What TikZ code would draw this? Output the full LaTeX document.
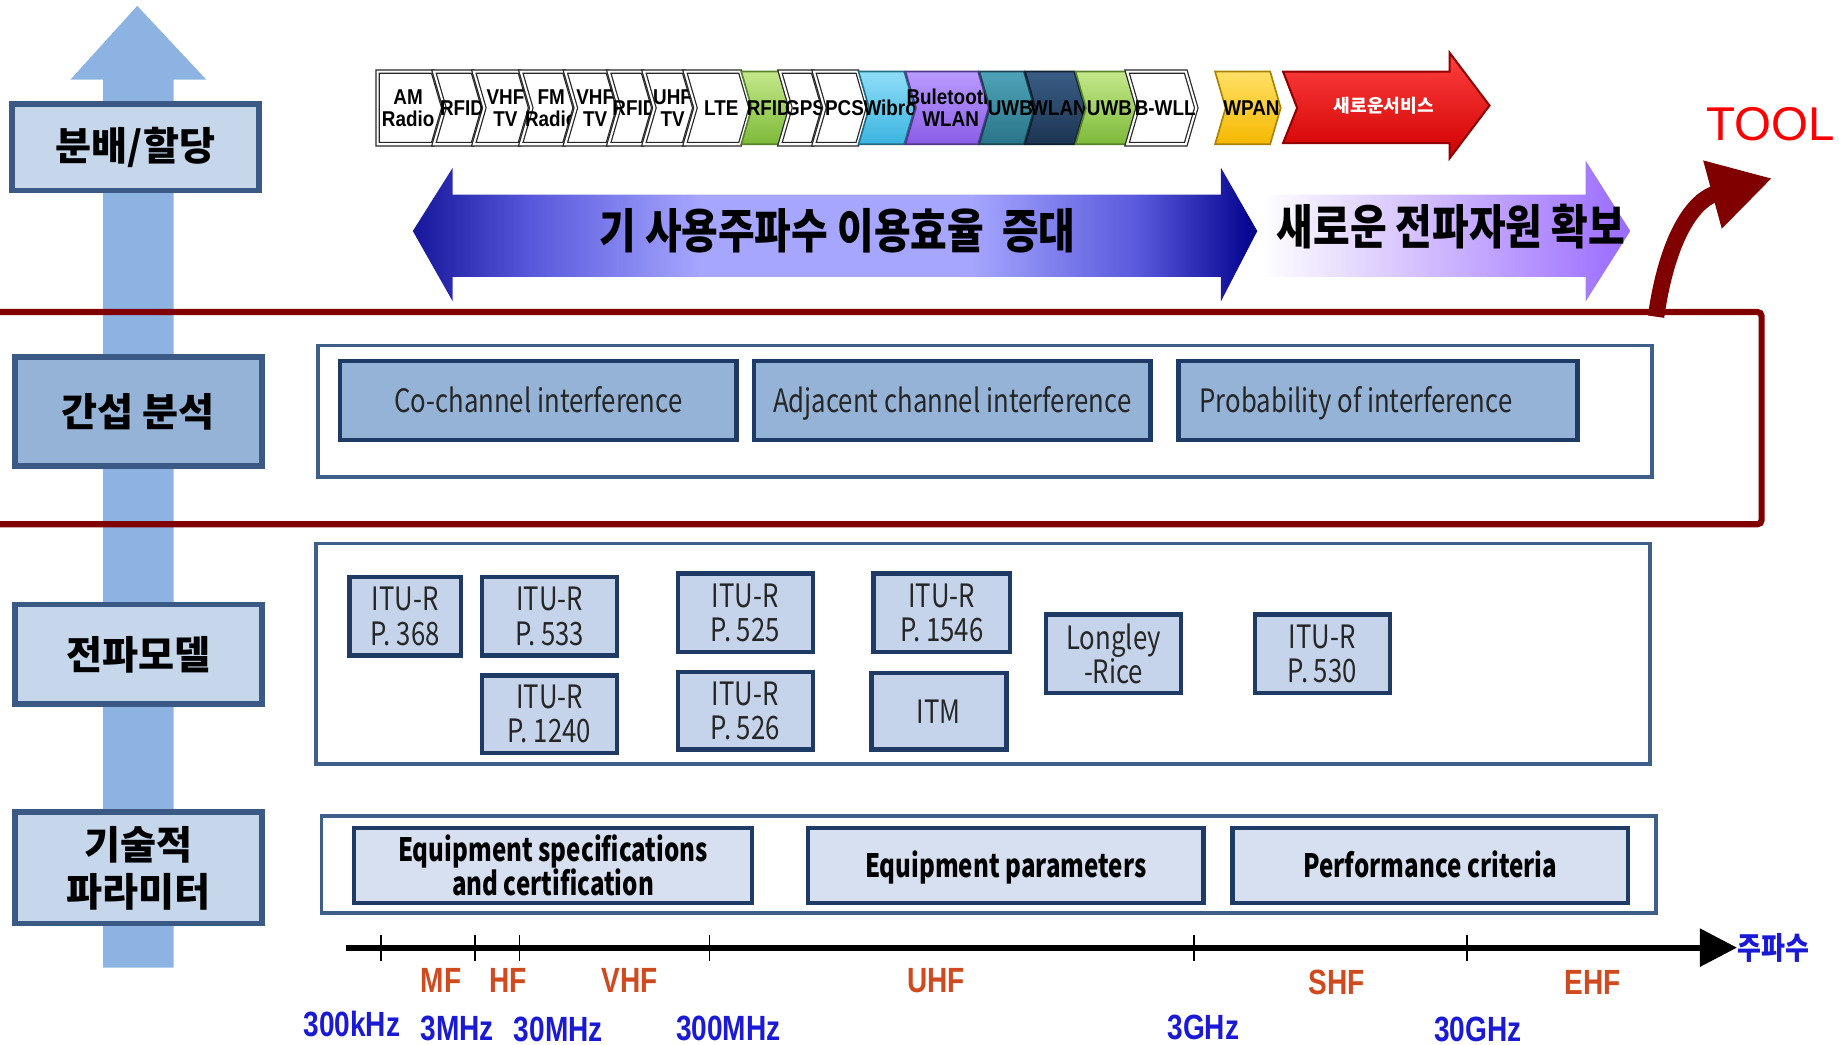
\documentclass[tikz,border=0pt]{standalone}
\usepackage{fontspec}
\setmainfont{Noto Sans CJK KR}
\newfontfamily\krcond{Noto Sans CJK KR}[FakeStretch=0.84]
\newfontfamily\latcond{Noto Sans CJK KR}[FakeStretch=0.8]
\newfontfamily\latboldcond{Noto Sans CJK KR}[FakeStretch=0.75]
\newfontfamily\arialfont{Liberation Sans}
\newfontfamily\chevfont{Liberation Sans}[FakeStretch=0.88]
\newfontfamily\arialnarrow{Liberation Sans}[FakeStretch=0.8]
\usetikzlibrary{arrows.meta}

\definecolor{shaftblue}{HTML}{8DB3E2}
\definecolor{lblframe}{HTML}{3A5A85}
\definecolor{lightfill}{HTML}{C6D6EB}
\definecolor{midfill}{HTML}{95B3D7}
\definecolor{groupframe}{HTML}{3E5F8A}
\definecolor{boxnavy}{HTML}{1F3A64}
\definecolor{propfill}{HTML}{C5D4EA}
\definecolor{techfill}{HTML}{D6E0F0}
\definecolor{toolred}{HTML}{800000}
\definecolor{bandred}{HTML}{CF4A1E}
\definecolor{freqblue}{HTML}{1A1AD6}
\definecolor{arrdark}{HTML}{16169A}
\definecolor{arrmid}{HTML}{5858DC}
\definecolor{arrlight}{HTML}{A6A6FF}
\definecolor{arrdarkR}{HTML}{00008B}
\definecolor{violetend}{HTML}{9A6BFF}
\definecolor{violetpale}{HTML}{F2ECFF}
\definecolor{greentop}{HTML}{C4E88A}
\definecolor{greenbot}{HTML}{7DBA3A}
\definecolor{cyantop}{HTML}{8FDDF7}
\definecolor{cyanbot}{HTML}{3BB4E0}
\definecolor{purptop}{HTML}{B99CFF}
\definecolor{purpbot}{HTML}{8A5CE6}
\definecolor{tealtop}{HTML}{4FA3B8}
\definecolor{tealbot}{HTML}{2A7489}
\definecolor{navytop}{HTML}{3A5C85}
\definecolor{navybot}{HTML}{1C3553}
\definecolor{goldtop}{HTML}{FFE066}
\definecolor{goldbot}{HTML}{F5B800}
\definecolor{redtop}{HTML}{FF4040}
\definecolor{redbot}{HTML}{D00000}

% dark ends, light middle (0bp = right end after rotation)
\pgfdeclareverticalshading{reuseshade}{100bp}{color(0bp)=(arrdarkR); color(25bp)=(arrdarkR);
  color(32bp)=(arrmid); color(42bp)=(arrlight); color(58bp)=(arrlight); color(68bp)=(arrmid);
  color(75bp)=(arrdark); color(100bp)=(arrdark)}

% chevron: left x, tip x, style, name, text
\newcommand\chevbox[5]{%
  \draw[#3] (#1,61) -- (#2-9,61) -- (#2,92) -- (#2-9,123) -- (#1,123) -- (#1+9,92) -- cycle;
  \node[chevtxt] (#4) at ({(#1+#2)/2+3},92) {#5};}

\begin{document}
\begin{tikzpicture}[x=0.01cm,y=-0.01cm,
    lbl/.style={draw=lblframe,line width=1.4pt,minimum width=2.1cm,align=center,
      font=\bfseries\fontsize{9.5}{11.4}\selectfont},
    groupbox/.style={draw=groupframe,line width=0.9pt,fill=white,minimum width=11.37cm},
    ibox/.style={draw=boxnavy,line width=1.1pt,align=center,inner sep=0pt,text=black!85,
      font=\latcond\fontsize{7.8}{8.3}\selectfont},
    oneline/.style={text height=1.55ex,text depth=0.45ex},
    tbox/.style={ibox,fill=techfill,text=black,minimum height=0.64cm,
      font=\latboldcond\bfseries\fontsize{7.8}{8.3}\selectfont},
    chevtxt/.style={align=center,inner sep=0pt,font=\chevfont\bfseries\fontsize{5.2}{5.4}\selectfont},
    wchev/.style={fill=white,draw=black!85,line width=0.3pt,double=white,double distance=0.5pt},
    bigtxt/.style={font=\krcond\bfseries\fontsize{11.5}{13}\selectfont},
    band/.style={text=bandred,font=\arialnarrow\bfseries\fontsize{8.5}{9}\selectfont},
    freq/.style={text=freqblue,font=\arialnarrow\bfseries\fontsize{8.5}{9}\selectfont}]
  \useasboundingbox (0,0) rectangle (1568,891);

  % vertical arrow behind the labels
  \fill[shaftblue] (88,825) -- (88,68) -- (60,68) -- (117,5) -- (176,68) -- (148,68) -- (148,825) -- cycle;

  % highlighted band
  \draw[toolred,line width=1.5pt,rounded corners=1pt] (-10,266) rectangle (1502,447);

  % left labels
  \node[lbl,fill=lightfill,minimum height=0.74cm] (alloc) at (115.5,125.5) {분배/할당};
  \node[lbl,fill=midfill,minimum height=0.93cm] (interf) at (118,351) {간섭 분석};
  \node[lbl,fill=lightfill,minimum height=0.85cm] (prop) at (118,558) {전파모델};
  \node[lbl,fill=lightfill,minimum height=0.85cm] (tech) at (118,740) {기술적\\파라미터};

  % service chevrons
  \draw[wchev] (322,61) -- (369,61) -- (378,92) -- (369,123) -- (322,123) -- cycle;
  \node[chevtxt] (amradio) at (348,92) {AM\\Radio};
  \chevbox{370}{412}{wchev}{rfida}{RFID}
  \chevbox{404}{452}{wchev}{vhfa}{VHF\\TV}
  \chevbox{444}{490}{wchev}{fmradio}{FM\\Radio}
  \chevbox{482}{527}{wchev}{vhfb}{VHF\\TV}
  \chevbox{519}{557}{wchev}{rfidb}{RFID}
  \chevbox{549}{592}{wchev}{uhf}{UHF\\TV}
  \chevbox{584}{640}{wchev}{lte}{LTE}
  \chevbox{632}{673}{top color=greentop,bottom color=greenbot,draw=greenbot!70!black}{rfidc}{RFID}
  \chevbox{665}{702}{wchev}{gps}{GPS}
  \chevbox{694}{740}{wchev}{pcs}{PCS}
  \chevbox{732}{780}{top color=cyantop,bottom color=cyanbot,draw=cyanbot!60!black}{wibro}{Wibro}
  \chevbox{772}{843}{top color=purptop,bottom color=purpbot,draw=purpbot!60!black}{bluetooth}{Buletooth\\WLAN}
  \chevbox{835}{882}{top color=tealtop,bottom color=tealbot,draw=tealbot!60!black}{uwba}{UWB}
  \chevbox{874}{925}{top color=navytop,bottom color=navybot,draw=navybot!60!black}{wlan}{WLAN}
  \chevbox{917}{969}{top color=greentop,bottom color=greenbot,draw=greenbot!70!black}{uwbb}{UWB}
  \chevbox{961}{1020}{wchev}{bwll}{B-WLL}
  \chevbox{1036}{1092}{top color=goldtop,bottom color=goldbot,draw=goldbot!70!black}{wpan}{WPAN}
  \draw[top color=redtop,bottom color=redbot,draw=redbot!70!black,line width=0.5pt]
    (1094,61) -- (1236,61) -- (1236,45) -- (1270,90) -- (1236,135) -- (1236,122) -- (1094,122) -- (1106,92) -- cycle;
  \node[chevtxt,text=white,font=\bfseries\fontsize{4.4}{5}\selectfont] (newsvc) at (1180,90) {새로운서비스};

  % big arrows
  \shade[shading=reuseshade,shading angle=90]
    (352,197) -- (386,143) -- (386,166) -- (1041,166) -- (1041,143) -- (1072,197)
    -- (1041,257) -- (1041,236) -- (386,236) -- (386,257) -- cycle;
  \node[bigtxt] (reuse) at (714,197) {기 사용주파수 이용효율~ 증대};
  \shade[left color=white,middle color=violetpale,right color=violetend]
    (1075,166) -- (1352,166) -- (1352,137) -- (1390,197) -- (1352,257) -- (1352,236) -- (1075,236) -- cycle;
  \node[bigtxt] (newres) at (1237,193) {새로운 전파자원 확보};

  % interference analysis
  \node[groupbox,minimum height=1.12cm] (interfgrp) at (840,350.5) {};
  \node[ibox,oneline,fill=midfill,minimum width=3.38cm,minimum height=0.67cm] (cochan) at (459,341.5) {Co-channel interference};
  \node[ibox,oneline,fill=midfill,minimum width=3.38cm,minimum height=0.67cm] (adjchan) at (812,341.5) {Adjacent channel interference};
  \node[ibox,oneline,fill=midfill,minimum width=3.4cm,minimum height=0.67cm,text width=3.04cm,align=flush left] (probint) at (1175,341.5) {Probability of interference};

  % propagation models
  \node[groupbox,minimum height=1.88cm] (propgrp) at (838,557.5) {};
  \node[ibox,fill=propfill,minimum width=0.95cm,minimum height=0.67cm] (p368) at (345.5,525.5) {ITU-R\\P. 368};
  \node[ibox,fill=propfill,minimum width=1.15cm,minimum height=0.67cm] (p533) at (468.5,525.5) {ITU-R\\P. 533};
  \node[ibox,fill=propfill,minimum width=1.15cm,minimum height=0.66cm] (p1240) at (468.5,609) {ITU-R\\P. 1240};
  \node[ibox,fill=propfill,minimum width=1.15cm,minimum height=0.67cm] (p525) at (635.5,522.5) {ITU-R\\P. 525};
  \node[ibox,fill=propfill,minimum width=1.15cm,minimum height=0.66cm] (p526) at (635.5,606) {ITU-R\\P. 526};
  \node[ibox,fill=propfill,minimum width=1.16cm,minimum height=0.67cm] (p1546) at (803,522.5) {ITU-R\\P. 1546};
  \node[ibox,oneline,fill=propfill,minimum width=1.15cm,minimum height=0.65cm] (itm) at (800.5,606.5) {ITM};
  \node[ibox,fill=propfill,minimum width=1.15cm,minimum height=0.67cm] (longley) at (949.5,557.5) {Longley\\-Rice};
  \node[ibox,fill=propfill,minimum width=1.15cm,minimum height=0.67cm] (p530) at (1127.5,557.5) {ITU-R\\P. 530};

  % technical parameters
  \node[groupbox,minimum height=0.83cm] (techgrp) at (843,737) {};
  \node[tbox,minimum width=3.39cm] (eqspec) at (471.5,738) {Equipment specifications\\and certification};
  \node[tbox,oneline,minimum width=3.37cm] (eqparam) at (857.5,738) {Equipment parameters};
  \node[tbox,oneline,minimum width=3.37cm] (perf) at (1219.5,738) {Performance criteria};

  % frequency axis
  \coordinate (axstart) at (295,808);
  \coordinate (axend) at (1481,808);
  \draw[line width=1.4pt,-{Triangle[length=9pt,width=9pt]}] (axstart) -- (axend);
  \foreach \t in {325,405,443,605,1018,1251}
    \draw[line width=0.4pt] (\t,797) -- (\t,819);
  \node[anchor=west,inner sep=0pt,text=freqblue,font=\krcond\bfseries\fontsize{7.5}{8}\selectfont] (axname) at (axend) {주파수};
  \node[band] (mf) at (376,836) {MF};
  \node[band] (hf) at (433,836) {HF};
  \node[band] (vhf) at (537,836) {VHF};
  \node[band] (uhfb) at (798,836) {UHF};
  \node[band] (shf) at (1140,838) {SHF};
  \node[band] (ehf) at (1358,838) {EHF};
  \node[freq] (f300k) at (300,873) {300kHz};
  \node[freq] (f3m) at (390,877) {3MHz};
  \node[freq] (f30m) at (476,878) {30MHz};
  \node[freq] (f300m) at (621,877) {300MHz};
  \node[freq] (f3g) at (1026,876) {3GHz};
  \node[freq] (f30g) at (1260,878) {30GHz};

  % tool arrow
  \node[text=red,font=\arialfont\fontsize{11.5}{12}\selectfont] (tool) at (1510,106) {TOOL};
  \coordinate (toolfoot) at (1412,270);
  \coordinate (toolhead) at (1511,152);
  \draw[toolred,line width=4pt,-{Triangle[length=15pt,width=16pt]}]
    (toolfoot) .. controls (1422,200) and (1445,170) .. (toolhead);
\end{tikzpicture}
\end{document}
